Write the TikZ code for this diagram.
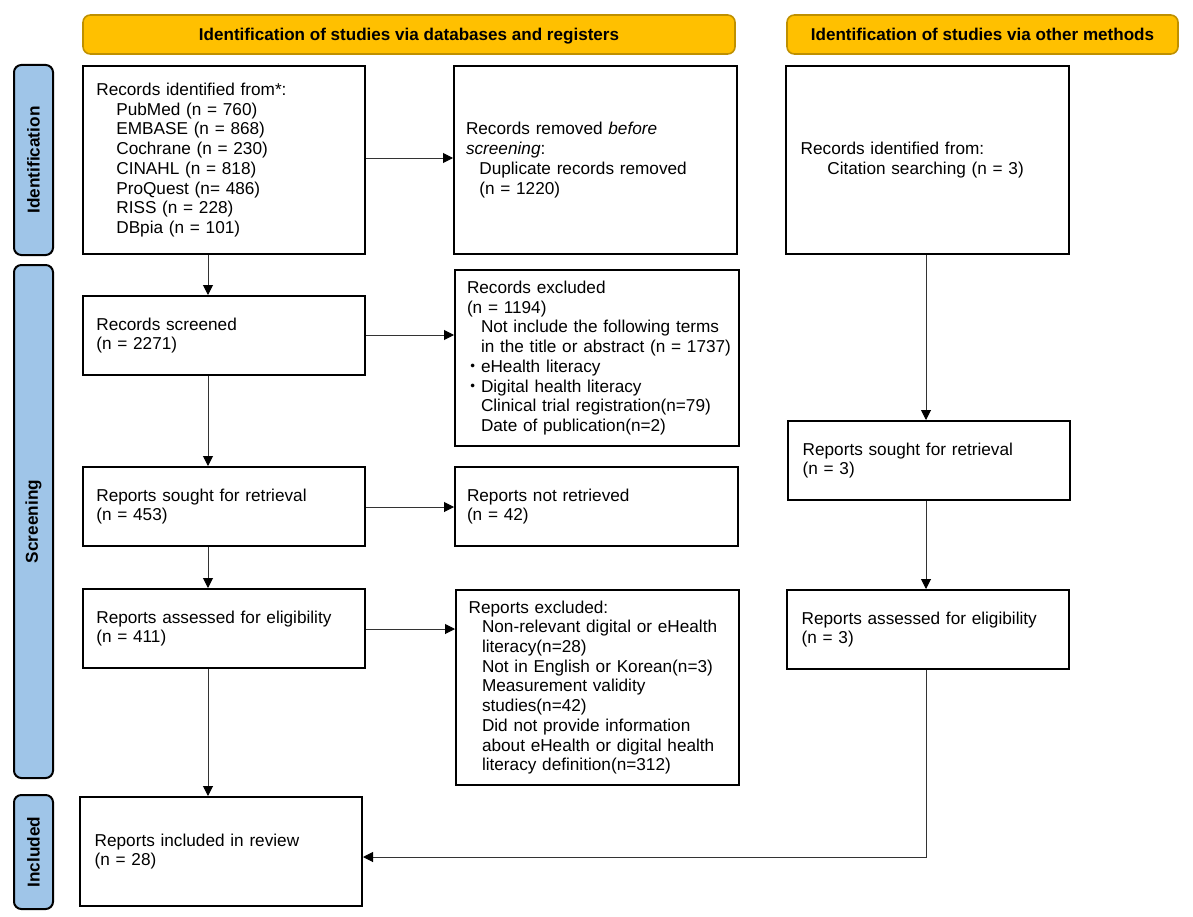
\documentclass[tikz,border=0pt]{standalone}
\usepackage{fontspec}
\setmainfont{Liberation Sans}
\newfontfamily\cjk{Noto Sans CJK JP}
\usetikzlibrary{arrows.meta}
\definecolor{hdrfill}{HTML}{FFC000}
\definecolor{hdrline}{HTML}{BF9000}
\definecolor{sidefill}{HTML}{9FC5E8}
\definecolor{linkgray}{HTML}{333333}
\begin{document}
\begin{tikzpicture}[x=0.75pt,y=-0.75pt,
  every node/.style={font=\fontsize{12.9}{14.8}\selectfont},
  box/.style={draw=black, line width=1.5pt, fill=white, align=left, inner ysep=0pt, anchor=center},
  hdr/.style={draw=hdrline, line width=1.2pt, fill=hdrfill, rounded corners=5.5pt, inner sep=0pt,
    text height=9.2pt, text depth=0pt,
    font=\fontsize{12.8}{14.8}\selectfont\bfseries},
  side/.style={draw=black, line width=1.5pt, fill=sidefill, rounded corners=5.5pt, inner sep=0pt,
    font=\fontsize{12.9}{14.8}\selectfont\bfseries},
  sidetext/.style={rotate=90, font=\fontsize{12.9}{14.8}\selectfont\bfseries},
  link/.style={draw=linkgray, line width=0.75pt, -{Triangle[length=7.5pt,width=7.5pt,color=black]}},
]
\useasboundingbox (0,0) rectangle (1193,917);
% headers
\node[hdr, minimum width=489pt, minimum height=29.25pt] (h1) at (409,34.5) {Identification of studies via databases and registers};
\node[hdr, minimum width=293.25pt, minimum height=29.25pt] (h2) at (982.5,34.5) {Identification of studies via other methods};
% side labels
\node[side, minimum width=29.25pt, minimum height=142.5pt] (s1) at (33.5,160) {};
\node[sidetext] (s1t) at (s1.center) {Identification};
\node[side, minimum width=29.25pt, minimum height=384.75pt] (s2) at (33.5,521.5) {};
\node[sidetext] (s2t) at (s2.center) {Screening};
\node[side, minimum width=29.25pt, minimum height=85.5pt] (s3) at (33.5,852) {};
\node[sidetext] (s3t) at (s3.center) {Included};
% boxes
\node[box, minimum width=211.5pt, minimum height=141pt, inner xsep=10pt, text width=191.5pt] (A) at (224,160)
 {Records identified from*:\\
  \hspace*{15pt}PubMed (n = 760)\\
  \hspace*{15pt}EMBASE (n = 868)\\
  \hspace*{15pt}Cochrane (n = 230)\\
  \hspace*{15pt}CINAHL (n = 818)\\
  \hspace*{15pt}ProQuest (n= 486)\\
  \hspace*{15pt}RISS (n = 228)\\
  \hspace*{15pt}DBpia (n = 101)};
\node[box, minimum width=212.25pt, minimum height=141pt, inner xsep=9pt, text width=194.25pt] (B) at (595.5,160)
 {Records removed \textit{before}\\
  \textit{screening}:\\
  \hspace*{10pt}Duplicate records removed\\
  \hspace*{10pt}(n = 1220)};
\node[box, minimum width=212.25pt, minimum height=141pt, inner xsep=11pt, text width=190.25pt] (C) at (927.5,160)
 {Records identified from:\\
  \hspace*{20pt}Citation searching (n = 3)};
\node[box, minimum width=211.5pt, minimum height=59.25pt, inner xsep=10pt, text width=191.5pt] (D) at (224,335.5)
 {Records screened\\(n = 2271)};
\node[box, minimum width=213pt, minimum height=132pt, inner xsep=9pt, text width=195pt] (E) at (597,358)
 {Records excluded\\
  (n = 1194)\\
  \hspace*{10.5pt}Not include the following terms\\
  \mbox{\hspace*{10.5pt}in the title or abstract (n = 1737)}\\
  \makebox[10.5pt][l]{\hspace*{-2pt}{\cjk ・}}eHealth literacy\\
  \makebox[10.5pt][l]{\hspace*{-2pt}{\cjk ・}}Digital health literacy\\
  \hspace*{10.5pt}Clinical trial registration(n=79)\\
  \hspace*{10.5pt}Date of publication(n=2)};
\node[box, minimum width=211.5pt, minimum height=59.25pt, inner xsep=10pt, text width=191.5pt] (F) at (224,506.5)
 {Reports sought for retrieval\\(n = 453)};
\node[box, minimum width=212.25pt, minimum height=59.25pt, inner xsep=9pt, text width=194.25pt] (G) at (596.5,506.5)
 {Reports not retrieved\\(n = 42)};
\node[box, minimum width=211.5pt, minimum height=59.25pt, inner xsep=11pt, text width=189.5pt] (H) at (929,460.5)
 {Reports sought for retrieval\\(n = 3)};
\node[box, minimum width=211.5pt, minimum height=59.25pt, inner xsep=10pt, text width=191.5pt] (I) at (224,628.5)
 {Reports assessed for eligibility\\(n = 411)};
\node[box, minimum width=212.25pt, minimum height=146.25pt, inner xsep=9.5pt, text width=193.25pt] (J) at (597.5,687.5)
 {Reports excluded:\\
  \hspace*{10pt}Non-relevant digital or eHealth\\
  \hspace*{10pt}literacy(n=28)\\
  \hspace*{10pt}Not in English or Korean(n=3)\\
  \hspace*{10pt}Measurement validity\\
  \hspace*{10pt}studies(n=42)\\
  \hspace*{10pt}Did not provide information\\
  \hspace*{10pt}about eHealth or digital health\\
  \hspace*{10pt}literacy definition(n=312)};
\node[box, minimum width=211.5pt, minimum height=59.25pt, inner xsep=11pt, text width=189.5pt] (K) at (928,629.5)
 {Reports assessed for eligibility\\(n = 3)};
\node[box, minimum width=211.5pt, minimum height=81.75pt, inner xsep=11pt, text width=189.5pt] (L) at (221,851.5)
 {Reports included in review\\(n = 28)};
% connectors
\draw[link] (A.east |- 0,158) -- (B.west |- 0,158);
\draw[link] (D.east |- 0,335) -- (E.west |- 0,335);
\draw[link] (F.east |- 0,507) -- (G.west |- 0,507);
\draw[link] (I.east |- 0,629) -- (J.west |- 0,629);
\draw[link] (A.south -| 208,0) -- (D.north -| 208,0);
\draw[link] (D.south -| 208,0) -- (F.north -| 208,0);
\draw[link] (F.south -| 208,0) -- (I.north -| 208,0);
\draw[link] (I.south -| 208,0) -- (L.north -| 208,0);
\draw[link] (C.south -| 926,0) -- (H.north -| 926,0);
\draw[link] (H.south -| 926,0) -- (K.north -| 926,0);
\draw[link] (K.south -| 926,0) -- (926,857) -- (L.east |- 0,857);
\end{tikzpicture}
\end{document}
